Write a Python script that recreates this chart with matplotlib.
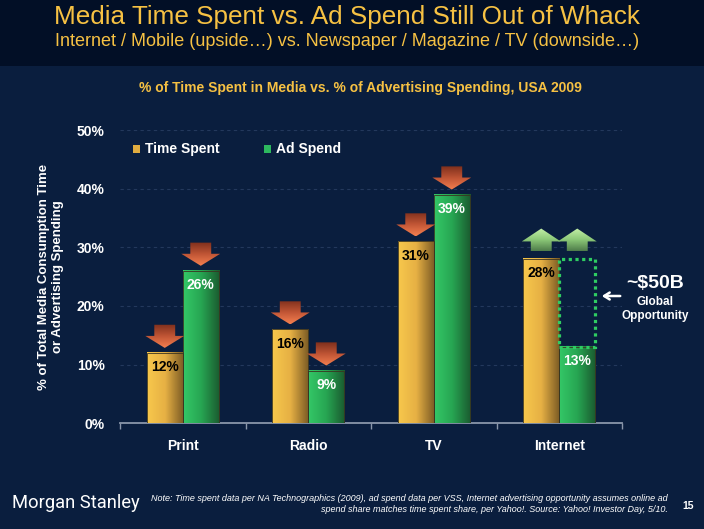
import numpy as np
import matplotlib
matplotlib.use('Agg')
import matplotlib.pyplot as plt
from matplotlib.patches import Polygon, Rectangle, FancyArrowPatch
from matplotlib.colors import LinearSegmentedColormap

# ---------------- data ----------------
categories = ['Print', 'Radio', 'TV', 'Internet']
time_spent = [12, 16, 31, 28]
ad_spend = [26, 9, 39, 13]
ad_spend_potential = [None, None, None, 28]
time_arrow = ['down', 'down', 'down', 'up']
ad_arrow = ['down', 'down', 'down', 'up']
yticks = [0, 10, 20, 30, 40, 50]
ytick_labels = ['0%', '10%', '20%', '30%', '40%', '50%']

title = 'Media Time Spent vs. Ad Spend Still Out of Whack'
subtitle = 'Internet / Mobile (upside\u2026) vs. Newspaper / Magazine / TV (downside\u2026)'
chart_title = '% of Time Spent in Media vs. % of Advertising Spending, USA 2009'
ylabel = '% of Total Media Consumption Time\nor Advertising Spending'
note = ('Note: Time spent data per NA Technographics (2009), ad spend data per VSS, Internet advertising opportunity assumes online ad\n'
        'spend share matches time spent share, per Yahoo!. Source: Yahoo! Investor Day, 5/10.')

# ---------------- style ----------------
W, H = 704, 529
BG = '#0a1e3e'
BANNER = '#020f26'
GOLD_T = '#f6c143'
plt.rcParams['font.family'] = ['Liberation Sans', 'DejaVu Sans']

def fx(x):
    return x / W

def fy(y):
    return 1 - y / H

fig = plt.figure(figsize=(W / 100, H / 100), dpi=100, facecolor=BG)
fig.add_artist(Rectangle((0, fy(66)), 1, 66 / H, transform=fig.transFigure,
                         facecolor=BANNER, edgecolor='none', zorder=0))

AX_L, AX_R = 120, 622
ax = fig.add_axes([fx(AX_L), fy(423.3), fx(AX_R) - fx(AX_L), fy(130) - fy(423.3)])
ax.set_facecolor('none')

cm_gold = LinearSegmentedColormap.from_list('g', ['#f8c84c', '#e6b044', '#7a5a24'])
cm_green = LinearSegmentedColormap.from_list('gr', ['#34c867', '#27a552', '#1a5a2f'])
cm_down = LinearSegmentedColormap.from_list('d', ['#7e2f1c', '#c05535', '#f58050'])
cm_up = LinearSegmentedColormap.from_list('u', ['#c4f0a8', '#8cc878', '#4e7c4a'])

x = np.arange(len(categories))
bw = 0.287
bars_t = ax.bar(x - bw / 2, time_spent, bw, color='#e6b044', zorder=2, linewidth=0)
bars_a = ax.bar(x + bw / 2, ad_spend, bw, color='#27a552', zorder=2, linewidth=0)

gh = np.linspace(0, 1, 128).reshape(1, -1)
gv = np.linspace(0, 1, 128).reshape(-1, 1)

for bars, cmap in ((bars_t, cm_gold), (bars_a, cm_green)):
    for b in bars:
        x0, w, h = b.get_x(), b.get_width(), b.get_height()
        ax.imshow(gh, cmap=cmap, extent=[x0, x0 + w, 0, h], aspect='auto',
                  zorder=3, interpolation='bilinear')
        ax.add_patch(Rectangle((x0, 0), w, h, fill=False, edgecolor='#3a3420',
                               linewidth=0.6, zorder=3.5))

def arrow(bar, top, direction):
    cx = bar.get_x() + bar.get_width() / 2
    hw = bar.get_width() * 1.08 / 2
    sw = bar.get_width() * 0.58 / 2
    if direction == 'down':
        base = top + 0.85
        hh, sh = 2.05, 1.9
        pts = [(cx, base), (cx - hw, base + hh), (cx - sw, base + hh), (cx - sw, base + hh + sh),
               (cx + sw, base + hh + sh), (cx + sw, base + hh), (cx + hw, base + hh)]
        cmap = cm_down
    else:
        base = top + 1.3
        hh, sh = 2.2, 1.7
        pts = [(cx - sw, base), (cx - sw, base + sh), (cx - hw, base + sh), (cx, base + sh + hh),
               (cx + hw, base + sh), (cx + sw, base + sh), (cx + sw, base)]
        cmap = cm_up
    y0, y1 = base, base + hh + sh
    poly = Polygon(pts, closed=True, facecolor='none', edgecolor='none', zorder=4)
    ax.add_patch(poly)
    im = ax.imshow(gv, cmap=cmap, extent=[cx - hw, cx + hw, y0, y1], aspect='auto',
                   zorder=4, interpolation='bilinear')
    im.set_clip_path(poly)

for i, b in enumerate(bars_t):
    arrow(b, b.get_height(), time_arrow[i])
    ax.text(b.get_x() + b.get_width() / 2, b.get_height() - 2.4, f'{time_spent[i]}%',
            ha='center', va='center', fontsize=10, fontweight='bold', color='black', zorder=5)
for i, b in enumerate(bars_a):
    top = ad_spend_potential[i] if ad_spend_potential[i] is not None else b.get_height()
    arrow(b, top, ad_arrow[i])
    ax.text(b.get_x() + b.get_width() / 2, b.get_height() - 2.4, f'{ad_spend[i]}%',
            ha='center', va='center', fontsize=10, fontweight='bold', color='white', zorder=5)
    if ad_spend_potential[i] is not None:
        ax.add_patch(Rectangle((b.get_x(), b.get_height()), b.get_width(),
                               ad_spend_potential[i] - b.get_height(), fill=False,
                               edgecolor='#2fcc62', linewidth=2.3, linestyle=(0, (1, 1.1)),
                               zorder=5))

ax.set_xlim(-0.5, len(categories) - 0.5)
ax.set_ylim(0, 50)
ax.set_yticks(yticks)
ax.set_yticklabels(ytick_labels, fontsize=10, fontweight='bold', color='white')
ax.set_xticks(x)
ax.set_xticklabels(categories, fontsize=10, fontweight='bold', color='white')
ax.set_xticks(np.arange(-0.5, len(categories), 1.0), minor=True)
ax.tick_params(axis='x', which='major', length=0, pad=11)
ax.tick_params(axis='x', which='minor', length=4, color='#8a96aa', width=1)
ax.tick_params(axis='y', length=0, pad=11)
for s in ('left', 'right', 'top'):
    ax.spines[s].set_visible(False)
ax.spines['bottom'].set_color('#8a96aa')
ax.spines['bottom'].set_linewidth(1.3)
ax.yaxis.grid(True, linestyle=(0, (3, 3)), color='#23385c', linewidth=0.8, zorder=0)
ax.set_axisbelow(True)

ax.set_ylabel(ylabel, fontsize=9.5, fontweight='bold', color='white',
              linespacing=1.25)
ax.yaxis.set_label_coords((64 - AX_L) / (AX_R - AX_L), 0.5)

# legend
for (lx, col, lab) in ((133, '#e0ac40', 'Time Spent'), (264, '#2db85e', 'Ad Spend')):
    fig.add_artist(Rectangle((fx(lx), fy(153)), 7 / W, 8 / H, transform=fig.transFigure,
                             facecolor=col, edgecolor='none'))
    fig.text(fx(lx + 12), fy(149), lab, fontsize=10, fontweight='bold', color='white',
             ha='left', va='center')

# titles
fig.text(fx(347), fy(17), title, fontsize=18.8, color=GOLD_T, ha='center', va='center')
fig.text(fx(347), fy(41), subtitle, fontsize=13, color=GOLD_T, ha='center', va='center')
fig.text(fx(360), fy(88), chart_title, fontsize=10, fontweight='bold', color=GOLD_T,
         ha='center', va='center')

# opportunity annotation
fig.add_artist(FancyArrowPatch((fx(623), fy(296)), (fx(599), fy(296)),
               transform=fig.transFigure, arrowstyle='->,head_length=4,head_width=2.5',
               color='white', linewidth=1.8))
fig.text(fx(655), fy(284), '~$50B', fontsize=14, fontweight='bold', color='white',
         ha='center', va='center')
fig.text(fx(655), fy(302), 'Global', fontsize=8.5, fontweight='bold', color='white',
         ha='center', va='center')
fig.text(fx(655), fy(316), 'Opportunity', fontsize=8.5, fontweight='bold', color='white',
         ha='center', va='center')

# footer
fig.text(fx(12), fy(503), 'Morgan Stanley', fontsize=13.2, color='white', ha='left',
         va='center', family=['Roboto', 'DejaVu Sans'], fontweight='normal')
fig.text(fx(668), fy(504), note, fontsize=6.5, fontstyle='italic', color='white',
         ha='right', va='center', linespacing=1.35)
fig.text(fx(688), fy(506), '15', fontsize=7.5, fontweight='bold', color='white',
         ha='center', va='center')

fig.savefig('out.png', dpi=100, facecolor=BG)
